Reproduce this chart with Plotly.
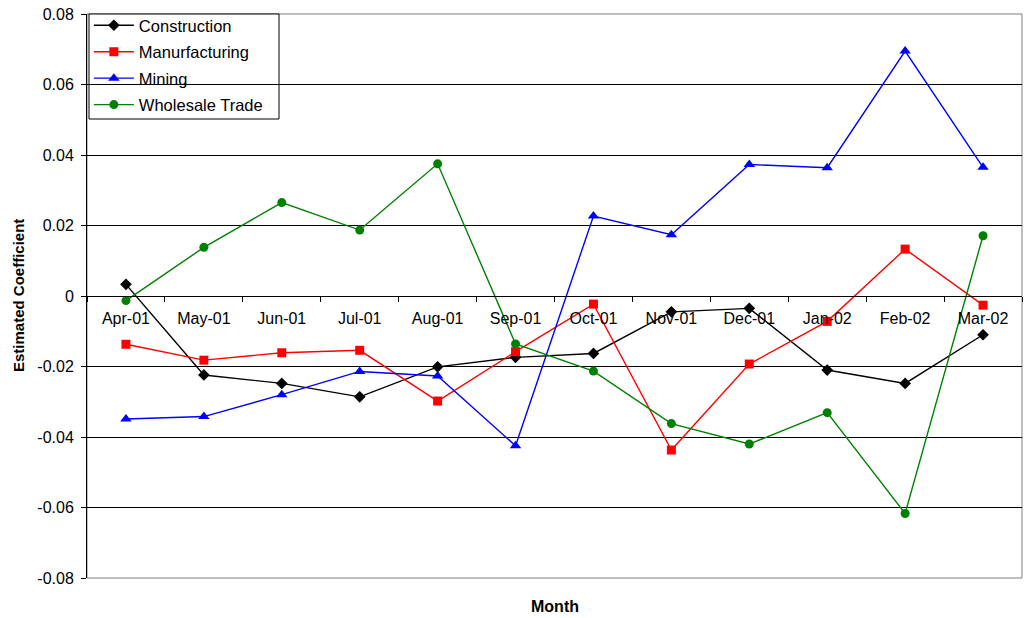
import plotly.graph_objects as go

months = ["Apr-01", "May-01", "Jun-01", "Jul-01", "Aug-01", "Sep-01",
          "Oct-01", "Nov-01", "Dec-01", "Jan-02", "Feb-02", "Mar-02"]

construction = [0.0033, -0.0224, -0.0248, -0.0286, -0.0201, -0.0174,
                -0.0163, -0.0045, -0.0035, -0.0210, -0.0248, -0.0110]
manufacturing = [-0.0137, -0.0182, -0.0161, -0.0154, -0.0298, -0.0158,
                 -0.0023, -0.0437, -0.0193, -0.0072, 0.0133, -0.0026]
mining = [-0.0349, -0.0342, -0.0280, -0.0214, -0.0227, -0.0425,
          0.0227, 0.0174, 0.0373, 0.0364, 0.0695, 0.0365]
wholesale = [-0.0013, 0.0138, 0.0265, 0.0187, 0.0375, -0.0136,
             -0.0213, -0.0362, -0.0420, -0.0331, -0.0617, 0.0171]

y_ticks = [0.08, 0.06, 0.04, 0.02, 0, -0.02, -0.04, -0.06, -0.08]
y_tick_text = ["0.08", "0.06", "0.04", "0.02", "0", "-0.02", "-0.04", "-0.06", "-0.08"]

series = [
    ("Construction", construction, "#000000", "diamond", 9),
    ("Manurfacturing", manufacturing, "#FF0000", "square", 9),
    ("Mining", mining, "#0000FF", "triangle-up", 10),
    ("Wholesale Trade", wholesale, "#008000", "circle", 9),
]

fig = go.Figure()
for name, vals, color, symbol, size in series:
    fig.add_trace(go.Scatter(
        x=months, y=vals, name=name, mode="lines+markers",
        legendgroup=name,
        line=dict(color=color, width=1.4),
        marker=dict(symbol=symbol, size=size, color=color),
    ))

font_family = "Liberation Sans, Arial, sans-serif"

# plot area in pixels: 87..1022 wide, 14..578 tall
plot_w, plot_h = 935, 564

fig.update_layout(
    width=1024, height=618,
    margin=dict(l=87, r=2, t=14, b=40),
    paper_bgcolor="white", plot_bgcolor="white",
    font=dict(family=font_family, size=16, color="black"),
    showlegend=True,
    legend=dict(
        x=0.002, y=1 + 6 / plot_h, xanchor="left", yanchor="top",
        borderwidth=0, bgcolor="rgba(0,0,0,0)",
        font=dict(size=16.5), tracegroupgap=2, itemwidth=40,
    ),
    xaxis=dict(
        type="category", range=[-0.5, 11.5],
        anchor="free", position=0.5,
        showline=True, linecolor="black", linewidth=1,
        ticks="outside", tickson="boundaries", ticklen=5, tickcolor="black",
        showgrid=False, zeroline=False,
        tickfont=dict(size=16), ticklabelstandoff=8,
    ),
    yaxis=dict(
        range=[-0.08, 0.08], tickvals=y_ticks, ticktext=y_tick_text,
        showline=True, linecolor="black", linewidth=1,
        ticks="outside", ticklen=5, tickcolor="black",
        showgrid=True, gridcolor="black", gridwidth=1,
        zeroline=False, tickfont=dict(size=16), ticklabelstandoff=4,
    ),
    shapes=[
        dict(type="rect", xref="paper", yref="paper", x0=0, x1=1, y0=0, y1=1,
             line=dict(color="#808080", width=1), layer="below"),
        # legend frame
        dict(type="rect", xref="paper", yref="paper",
             x0=2 / plot_w, x1=192 / plot_w, y0=1 - 105 / plot_h, y1=1,
             line=dict(color="black", width=1), fillcolor="white", layer="below"),
    ],
    annotations=[
        dict(text="<b>Estimated Coefficient</b>", xref="paper", yref="paper",
             x=0, y=0.5, xshift=-69, textangle=-90, showarrow=False,
             xanchor="center", yanchor="middle", font=dict(size=15)),
        dict(text="<b>Month</b>", xref="paper", yref="paper",
             x=0.5, y=0, yshift=-28, showarrow=False,
             xanchor="center", yanchor="middle", font=dict(size=16)),
    ],
)

fig.write_html("out.html")
